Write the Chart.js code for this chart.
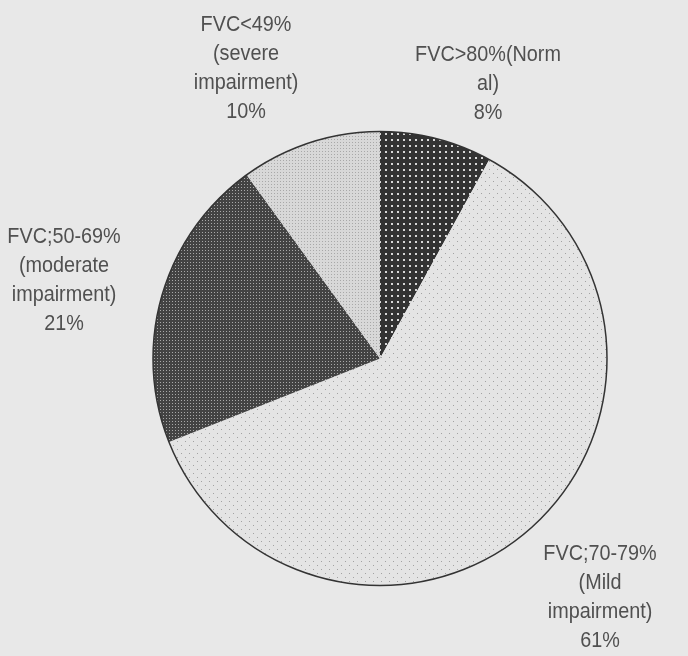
<!DOCTYPE html>
<html>
<head>
<meta charset="utf-8">
<script src="https://cdn.jsdelivr.net/npm/chart.js@4.4.1/dist/chart.umd.min.js"></script>
<style>
  html, body { margin: 0; padding: 0; background: #e8e8e8; }
  #wrap { width: 688px; height: 656px; position: relative; }
</style>
</head>
<body>
<div id="wrap"><canvas id="pie"></canvas></div>
<script>
// slices go clockwise from 12 o'clock
const categories = [
  ["FVC>80%(Norm", "al)"],
  ["FVC;70-79%", "(Mild", "impairment)"],
  ["FVC;50-69%", "(moderate", "impairment)"],
  ["FVC<49%", "(severe", "impairment)"]
]
const values = [8, 61, 21, 10]

// where each label block sits, relative to the pie centre (layout only)
const LABEL_OFFSETS = [[108, -275], [220, 239], [-316, -78], [-134, -290]]
const LINE_HEIGHT = 29
const TEXT_COLOR = "#505050"
const TEXT_SQUEEZE = 0.9   // the original typeface is a narrow one

function makePattern(size, draw) {
  const c = document.createElement("canvas")
  c.width = size
  c.height = size
  draw(c.getContext("2d"))
  return c.getContext("2d").createPattern(c, "repeat")
}

const patterns = [
  // dark with white dots
  makePattern(6, g => {
    g.fillStyle = "#333"; g.fillRect(0, 0, 6, 6)
    g.fillStyle = "#d8d8d8"; g.fillRect(1, 1, 2, 2)
  }),
  // light with sparse grey dots
  makePattern(8, g => {
    g.fillStyle = "#e4e4e4"; g.fillRect(0, 0, 8, 8)
    g.fillStyle = "#a2a2a2"; g.fillRect(1, 1, 1, 1); g.fillRect(5, 5, 1, 1)
  }),
  // medium-dark fine checker
  makePattern(3, g => {
    g.fillStyle = "#434343"; g.fillRect(0, 0, 3, 3)
    g.fillStyle = "#a8a8a8"; g.fillRect(1, 1, 1, 1)
  }),
  // light fine checker
  makePattern(3, g => {
    g.fillStyle = "#d8d8d8"; g.fillRect(0, 0, 3, 3)
    g.fillStyle = "#a8a8a8"; g.fillRect(1, 1, 1, 1)
  })
]

const outlinePlugin = {
  id: "outline",
  afterDatasetsDraw(chart) {
    const arc = chart.getDatasetMeta(0).data[0]
    if (!arc) return
    const ctx = chart.ctx
    ctx.save()
    ctx.beginPath()
    ctx.arc(arc.x, arc.y, arc.outerRadius, 0, Math.PI * 2)
    ctx.strokeStyle = "#333"
    ctx.lineWidth = 1.5
    ctx.stroke()
    ctx.restore()
  }
}

const labelPlugin = {
  id: "sliceLabels",
  afterDraw(chart) {
    const meta = chart.getDatasetMeta(0)
    const data = chart.data.datasets[0].data
    const total = data.reduce((a, b) => a + b, 0)
    const ctx = chart.ctx
    meta.data.forEach((arc, i) => {
      const lines = [...chart.data.labels[i], Math.round(data[i] / total * 100) + "%"]
      const cx = arc.x + LABEL_OFFSETS[i][0]
      const cy = arc.y + LABEL_OFFSETS[i][1]
      const top = cy - (lines.length - 1) * LINE_HEIGHT / 2
      lines.forEach((t, j) => {
        ctx.save()
        ctx.translate(cx, top + j * LINE_HEIGHT)
        ctx.scale(TEXT_SQUEEZE, 1)
        ctx.font = "22px 'Liberation Sans', Arial, sans-serif"
        ctx.fillStyle = TEXT_COLOR
        ctx.textAlign = "center"
        ctx.textBaseline = "middle"
        ctx.fillText(t, 0, 0)
        ctx.restore()
      })
    })
  }
}

new Chart(document.getElementById("pie"), {
  type: "pie",
  data: {
    labels: categories,
    datasets: [{
      data: values,
      backgroundColor: patterns,
      borderWidth: 0
    }]
  },
  options: {
    responsive: true,
    maintainAspectRatio: false,
    animation: false,
    events: [],
    layout: { padding: { left: 153, right: 81, top: 131, bottom: 70 } },
    plugins: {
      legend: { display: false },
      tooltip: { enabled: false }
    }
  },
  plugins: [outlinePlugin, labelPlugin]
})
</script>
</body>
</html>
